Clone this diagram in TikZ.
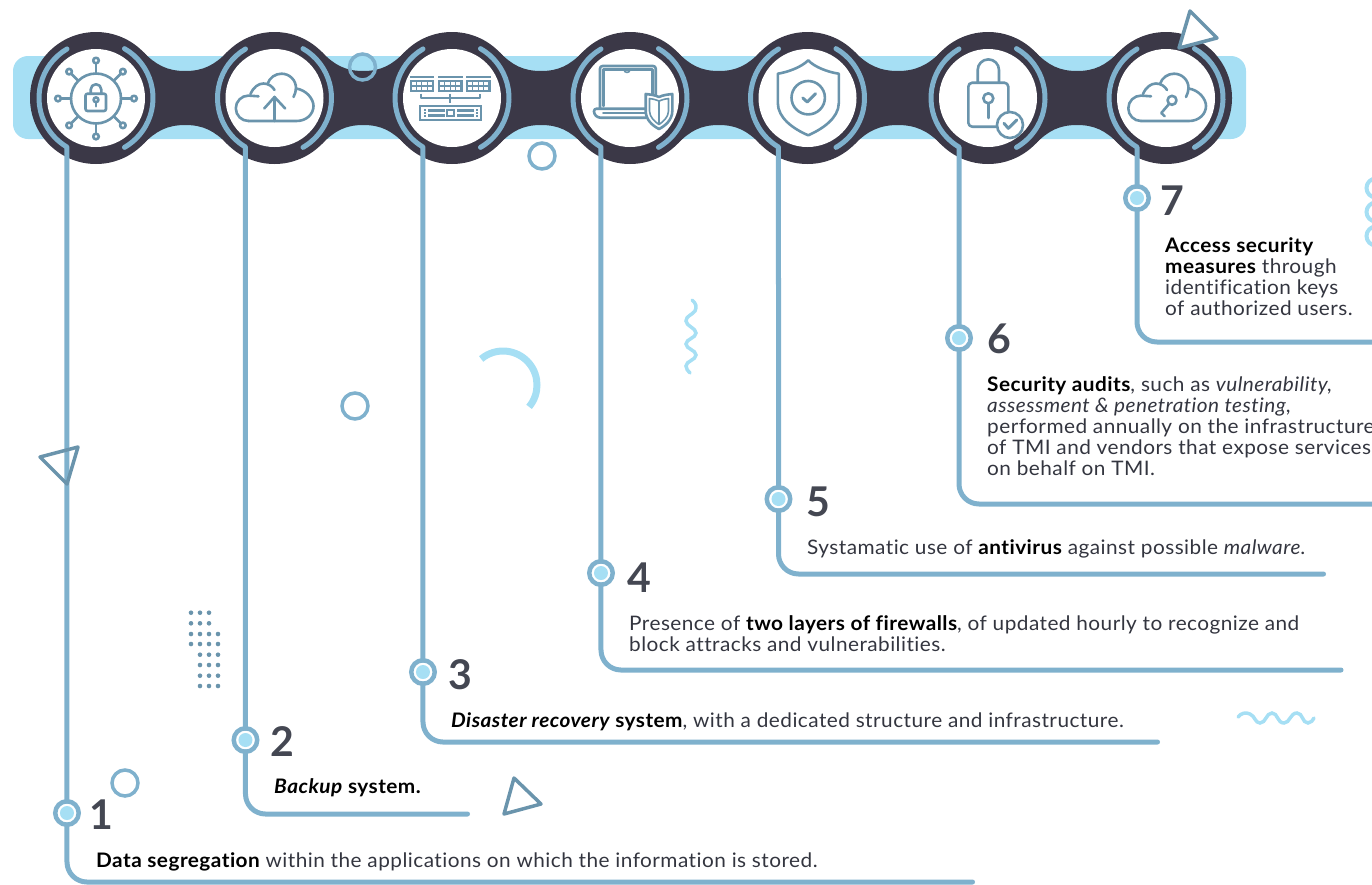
\documentclass[tikz,border=0pt]{standalone}
\usepackage{fontspec}
\setmainfont{Lato}[FakeStretch=1.04,LetterSpace=2.3,Ligatures=NoCommon]
\newfontfamily\numfont{Lato}
\usetikzlibrary{calc}
\definecolor{darkc}{HTML}{3B3847}
\definecolor{lightc}{HTML}{A6DFF4}
\definecolor{connc}{HTML}{7FB1CD}
\definecolor{iconc}{HTML}{6A94AC}
\definecolor{numc}{HTML}{444752}
\definecolor{textc}{HTML}{33353F}
\tikzset{
  conn/.style={draw=connc,line width=5pt,line cap=round,line join=round},
  hubarc/.style={draw=connc,line width=5pt,line cap=round},
  hubdisc/.style={circle,fill=white,minimum size=98pt,inner sep=0pt,outer sep=0pt},
  marker/.style={circle,draw=connc,line width=4.5pt,fill=white,minimum size=23.5pt,inner sep=0pt,outer sep=0pt},
  markdot/.style={circle,fill=lightc,minimum size=14pt,inner sep=0pt,outer sep=0pt},
  numlabel/.style={anchor=base west,inner sep=0pt,text=numc,font=\fontsize{41}{41}\numfont\bfseries\selectfont},
  bodytext/.style={anchor=base west,inner sep=0pt,align=left,text=textc,font=\fontsize{20}{21}\selectfont},
  ico/.style={draw=iconc,line width=2.6pt,line cap=round,line join=round},
  ring/.style={draw=connc,line width=3.5pt},
  tri/.style={draw=iconc,line width=3.5pt,line join=round},
  wiggle/.style={draw=lightc,line width=3.5pt,line cap=round},
}
\newcommand{\bb}[1]{{\bfseries\color{black}#1}}
\newcommand{\cloudshape}{%
  \draw[ico] (-26,-23) arc[start angle=270,end angle=90,radius=12.7] -- (-16,1.7);
  \draw[ico] (-24,4) .. controls (-21,11) and (-16,14.5) .. (-11,14.5) .. controls (-6,14.5) and (-2,11.5) .. (0,8);
  \draw[ico] (-7,14) .. controls (-5,20.5) and (1,24.3) .. (7,24.3) .. controls (15,24.3) and (21.5,18) .. (21.5,10) .. controls (21.5,7) and (20.5,4) .. (19,1);
  \draw[ico] (21.5,9.5) .. controls (32,8) and (39,-1) .. (39,-8) .. controls (39,-16) and (32,-23) .. (22,-23) -- (-26,-23);
}
\begin{document}
\begin{tikzpicture}[x=1pt,y=1pt]
\useasboundingbox (0,0) rectangle (1372,-884);
% band
\fill[lightc,rounded corners=15pt] (13,-56) rectangle (1246,-139);
% dark chain
\foreach \a/\b in {96/274.5,274.5/452,452/630,630/807.5,807.5/988,988/1166}{
  \pgfmathsetmacro{\m}{(\a+\b)/2}
  \fill[darkc] ({\a+47.5},-52.2) .. controls ({\a+60},-65) and ({\m-18},-71) .. (\m,-71)
     .. controls ({\m+18},-71) and ({\b-60},-65) .. ({\b-47.5},-52.2)
     -- ({\b-47.5},-143.8) .. controls ({\b-60},-131) and ({\m+18},-125) .. (\m,-125)
     .. controls ({\m-18},-125) and ({\a+60},-131) .. ({\a+47.5},-143.8) -- cycle;
}
\foreach \i/\x in {1/96,2/274.5,3/452,4/630,5/807.5,6/988,7/1166}{
  \fill[darkc] (\x,-98) circle[radius=66];
  \node[hubdisc] (hub\i) at (\x,-98) {};
  \draw[hubarc] ([shift={(60:57)}]hub\i.center) arc[start angle=60,end angle=-60,radius=57];
}
% markers
\foreach \i/\y in {1/813,2/740,3/672,4/573,5/499,6/338,7/198}{
  \node[marker] (mark\i) at ([xshift=-29.01pt]hub\i.center |- 0,-\y) {};
  \node[markdot] (dot\i) at (mark\i) {};
}
% connector free ends
\coordinate (end1) at (972.5,-882);
\coordinate (end2) at (467.5,-814);
\coordinate (end3) at (1157.5,-742);
\coordinate (end4) at (1341,-670);
\coordinate (end5) at (1323.5,-574);
\coordinate (end6) at (1380,-504);
\coordinate (end7) at (1380,-342);
\foreach \i in {1,...,7}{
  \draw[conn] ([shift={(120.6:57)}]hub\i.center) arc[start angle=120.6,end angle=239.4,radius=57] -- (mark\i.north);
  \draw[conn,rounded corners=20pt] (mark\i.south) -- (mark\i.south |- end\i) -- (end\i);
}
% numbers
\node[numlabel] (n1) at (89.5,-829.5) {1};
\node[numlabel] (n2) at (270,-756) {2};
\node[numlabel] (n3) at (448,-689) {3};
\node[numlabel] (n4) at (627,-592) {4};
\node[numlabel] (n5) at (806,-516.5) {5};
\node[numlabel] (n6) at (987,-353) {6};
\node[numlabel] (n7) at (1160,-215) {7};
% texts
\node[bodytext] (t1) at (96,-867) {\bb{Data segregation} within the applications on which the information is stored.};
\node[bodytext] (t2) at (274,-793) {\bb{\itshape Backup} \bb{system.}};
\node[bodytext] (t3) at (451,-727) {\bb{\itshape Disaster recovery} \bb{system}, with a dedicated structure and infrastructure.};
\node[bodytext] (t4) at (629,-651) {Presence of \bb{two layers of firewalls}, of updated hourly to recognize and\\block attracks and vulnerabilities.};
\node[bodytext] (t5) at (807,-554) {Systamatic use of \bb{antivirus} against possible \textit{malware}.};
\node[bodytext] (t6) at (987,-475) {\bb{Security audits}, such as \textit{vulnerability,}\\\textit{assessment \& penetration testing},\\performed annually on the infrastructure\\of TMI and vendors that expose services\\on behalf on TMI.};
\node[bodytext] (t7) at (1165,-315.5) {\bb{Access security}\\\bb{measures} through\\identification keys\\of authorized users.};
% icon 1
\begin{scope}[shift={(hub1.center)}]
  \draw[ico] (0,-0.5) circle[radius=25];
  \foreach \a in {0,45,...,315}{
    \draw[ico] ($(0,-0.5)+(\a:25)$) -- ($(0,-0.5)+(\a:35)$);
    \draw[ico] ($(0,-0.5)+(\a:38)$) circle[radius=2.8];
  }
  \draw[ico,rounded corners=2pt] (-10.5,4.3) rectangle (10,-13);
  \draw[ico] (-5.3,4.3) -- (-5.3,8.5) arc[start angle=180,end angle=0,radius=5.3] -- (5.3,4.3);
  \draw[ico] (0,-1.8) circle[radius=2.4];
  \draw[ico] (0,-4.2) -- (0,-8.3);
\end{scope}
% icon 2
\begin{scope}[shift={(hub2.center)}]
  \cloudshape
  \draw[ico] (0,-23) -- (0,1);
  \draw[ico] (-10.3,-10.5) -- (0,1) -- (10.7,-10.5);
\end{scope}
% icon 3
\begin{scope}[shift={(hub3.center)}]
  \foreach \x in {-42,-13.7,14.3}{
    \fill[iconc] (\x,22.4) rectangle ({\x+24.4},20);
    \fill[iconc] (\x,17.8) rectangle ({\x+24.4},6);
    \foreach \c in {0,1,2,3}{
      \fill[white] ({\x+1.6+\c*5.4},16.2) rectangle ({\x+5.8+\c*5.4},12.7);
      \fill[white] ({\x+1.6+\c*5.4},11.2) rectangle ({\x+5.8+\c*5.4},7.6);
    }
  }
  \draw[ico,line width=1.6pt,line cap=butt] (-31,4.5) -- (-31,0) -- (27.7,0) -- (27.7,4.5);
  \draw[ico,line width=1.6pt,line cap=butt] (-2,4.5) -- (-2,-5);
  \draw[iconc,line width=2pt] (-32,-8) rectangle (29,-21.5);
  \fill[iconc] (-24.5,-10.8) rectangle (-7.5,-13.8);
  \fill[iconc] (-24.5,-15.5) rectangle (-7.5,-18.5);
  \fill[iconc] (4.5,-10.8) rectangle (22,-13.8);
  \fill[iconc] (4.5,-15.5) rectangle (22,-18.5);
  \draw[iconc,line width=2pt] (-5,-11.5) rectangle (1.5,-18);
  \fill[iconc] (-28.5,-11) rectangle (-26.5,-13);
  \fill[iconc] (-28.5,-14) rectangle (-26.5,-16);
  \fill[iconc] (-28.5,-17) rectangle (-26.5,-19);
  \fill[iconc] (23.5,-11) rectangle (25.5,-13);
  \fill[iconc] (23.5,-14) rectangle (25.5,-16);
  \fill[iconc] (23.5,-17) rectangle (25.5,-19);
\end{scope}
% icon 4
\begin{scope}[shift={(hub4.center)}]
  \draw[ico,rounded corners=2.5pt] (-30,-10) -- (-30,32) -- (25.7,32) -- (25.7,0);
  \draw[ico] (-26.7,-8) -- (-26.7,28.7) -- (22.3,28.7) -- (22.3,1);
  \draw[ico,line width=1.6pt] (-6,28.5) arc[start angle=180,end angle=360,radius=3];
  \draw[ico,rounded corners=2.5pt] (15,-10.7) -- (-36,-10.7) -- (-36,-16) -- (-32,-19.7) -- (16,-19.7);
  \draw[ico] (-26.7,-15) -- (15,-15);
  \draw[ico,fill=white] (29,1) .. controls (33,3) and (38,3.5) .. (42.3,4) -- (42.3,-13) .. controls (42.3,-22) and (35,-28) .. (29,-31) .. controls (23,-28) and (15.7,-22) .. (15.7,-13) -- (15.7,4) .. controls (20,3.5) and (25,3) .. (29,1) -- cycle;
  \draw[ico,line width=1.6pt] (29,-3) .. controls (32,-1.5) and (35.5,-1) .. (38.5,-0.5) -- (38.5,-13) .. controls (38.5,-19) and (33,-24) .. (29,-26.5) .. controls (25,-24) and (19.5,-19) .. (19.5,-13) -- (19.5,-0.5) .. controls (22.5,-1) and (26,-1.5) .. (29,-3) -- cycle;
  \draw[ico,line width=2pt] (29,-3) -- (29,-26);
\end{scope}
% icon 5
\begin{scope}[shift={(hub5.center)}]
  \draw[ico] (0.7,37.7) .. controls (7,31) and (20,26) .. (31.3,24.3) -- (31.3,-5) .. controls (31.3,-20) and (15,-31) .. (0.7,-37.3) .. controls (-14,-31) and (-29.7,-20) .. (-29.7,-5) -- (-29.7,24.3) .. controls (-19,26) and (-6,31) .. (0.7,37.7) -- cycle;
  \draw[ico] (0.7,0.3) circle[radius=16.7];
  \draw[ico,line width=3pt] (-4.7,0) -- (-0.3,-4) -- (8,4.3);
\end{scope}
% icon 6
\begin{scope}[shift={(hub6.center)}]
  \draw[ico,rounded corners=4pt] (-19.7,15.3) rectangle (20.3,-28.7);
  \draw[ico] (-10.3,15.3) -- (-10.3,28) arc[start angle=180,end angle=0,radius=10.65] -- (11,15.3);
  \draw[ico] (0.3,-0.3) circle[radius=5];
  \draw[ico] (0.3,-5.3) -- (0.3,-20);
  \draw[ico,fill=white] (22,-27) circle[radius=13];
  \draw[ico,line width=3pt] (16,-25.3) -- (20.3,-30.3) -- (28.7,-22);
\end{scope}
% icon 7
\begin{scope}[shift={(hub7.center)},xshift=1pt]
  \cloudshape
  \draw[ico] (5,-2.3) circle[radius=4.5];
  \draw[ico] (2,-6) -- (-5.7,-15) -- (-2.3,-18.3);
\end{scope}
% decorations
\node[ring,circle,minimum size=26pt,inner sep=0pt] (r1) at (362.5,-67) {};
\node[ring,circle,minimum size=26pt,inner sep=0pt] (r2) at (542,-156) {};
\node[ring,circle,minimum size=26pt,inner sep=0pt] (r3) at (355,-406) {};
\node[ring,circle,minimum size=26pt,inner sep=0pt] (r4) at (125,-783) {};
\draw[tri,fill=white] (1190,-11) -- (1217,-38) -- (1179,-48) -- cycle;
\draw[tri] (40,-457) -- (78,-447) -- (67,-484) -- cycle;
\draw[tri] (514,-778) -- (541,-804) -- (504,-814) -- cycle;
\draw[draw=lightc,line width=7pt] (503,-385) ++(130:34) arc[start angle=130,end angle=-40,radius=34];
\draw[wiggle] (692,-300) .. controls (696,-303) and (697,-307) .. (695,-311) .. controls (692,-315) and (686,-316) .. (686,-321) .. controls (686,-326) and (696,-328) .. (696,-333) .. controls (696,-338) and (686,-339) .. (686,-344) .. controls (686,-349) and (696,-350) .. (696,-355) .. controls (696,-360) and (686,-361) .. (686,-366) .. controls (686,-369) and (688,-371) .. (690,-373);
\draw[wiggle] (1238,-717) .. controls (1241,-713) and (1246,-712) .. (1250,-714) .. controls (1255,-716) and (1255,-723) .. (1260,-723) .. controls (1266,-723) and (1266,-713) .. (1272,-713) .. controls (1278,-713) and (1277,-723) .. (1284,-723) .. controls (1290,-723) and (1290,-713) .. (1297,-713) .. controls (1303,-713) and (1302,-723) .. (1308,-723) .. controls (1311,-723) and (1313,-720) .. (1314,-718);
\foreach \y in {188,212,236}{\draw[draw=lightc,line width=4pt] (1376,-\y) circle[radius=9.5];}
% dots
\foreach \y in {612.7,623.3}{\foreach \x in {191,200,209}{\fill[iconc] (\x,-\y) circle[radius=2.3];}}
\foreach \y in {634,644}{\foreach \x in {191,200,209,218}{\fill[iconc] (\x,-\y) circle[radius=2.3];}}
\foreach \y in {654.7,665,675.7,686}{\foreach \x in {200,209,218}{\fill[iconc] (\x,-\y) circle[radius=2.3];}}
\end{tikzpicture}
\end{document}
